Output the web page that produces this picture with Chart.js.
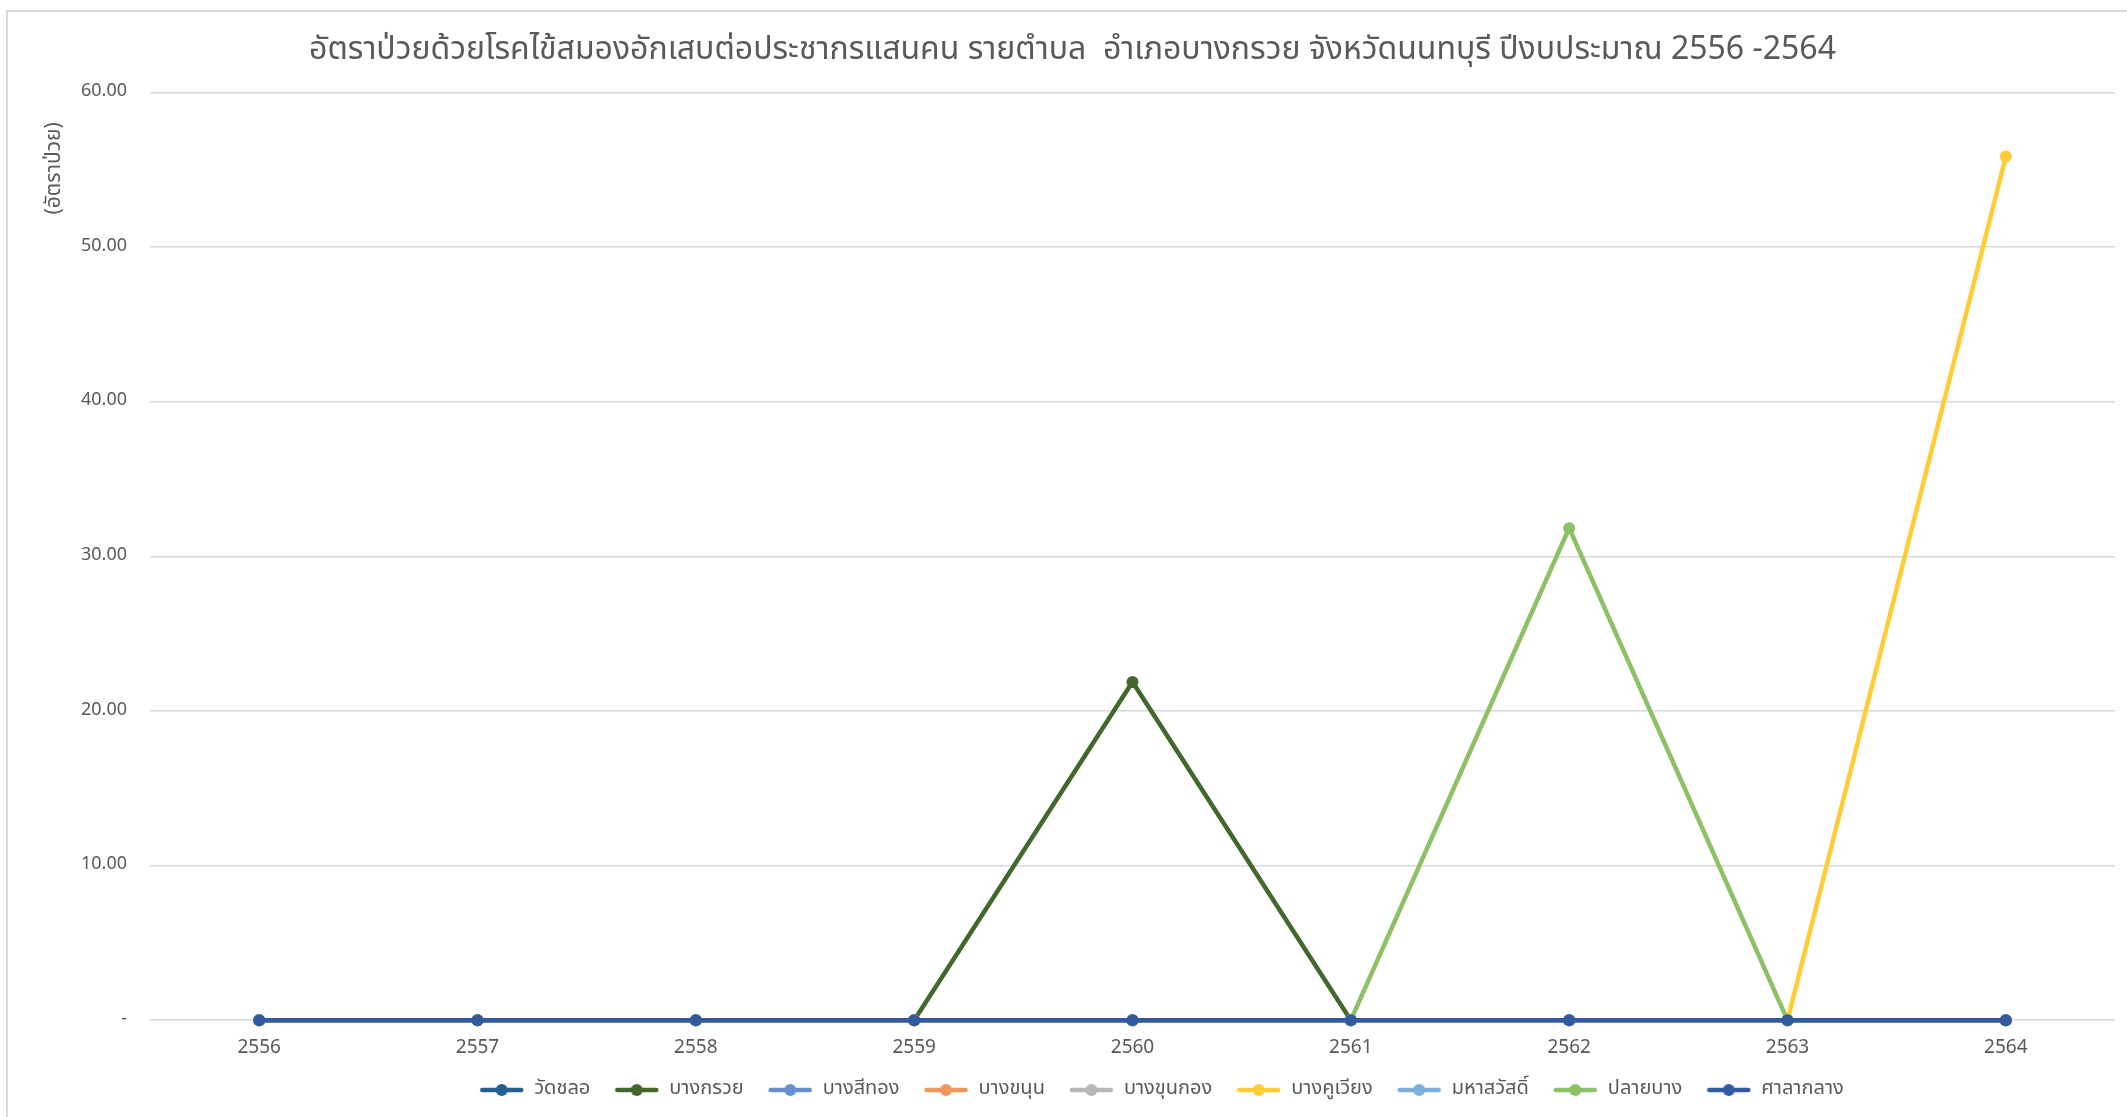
<!DOCTYPE html>
<html>
<head>
<meta charset="utf-8">
<script src="https://cdn.jsdelivr.net/npm/chart.js@4.4.1/dist/chart.umd.min.js"></script>
<style>
  html, body { margin: 0; padding: 0; background: #fff; }
  #frame { position: absolute; left: 6px; top: 10px; width: 2200px; height: 1200px;
           border-left: 2px solid #d9d9d9; border-top: 2px solid #d9d9d9; }
  #wrap { position: absolute; left: 0; top: 0; width: 2127px; height: 1117px; }
</style>
</head>
<body>
<div id="frame"></div>
<div id="wrap"><canvas id="myChart" width="2127" height="1117"></canvas></div>
<script>
const years = ['2556', '2557', '2558', '2559', '2560', '2561', '2562', '2563', '2564'];

const watChalo     = [0, 0, 0, 0, 0, 0, 0, 0, 0];
const bangKruai    = [0, 0, 0, 0, 21.87, 0, 0, 0, 0];
const bangSiThong  = [0, 0, 0, 0, 0, 0, 0, 0, 0];
const bangKhanun   = [0, 0, 0, 0, 0, 0, 0, 0, 0];
const bangKhunKong = [0, 0, 0, 0, 0, 0, 0, 0, 0];
const bangKhuWiang = [0, 0, 0, 0, 0, 0, 0, 0, 55.85];
const mahaSawat    = [0, 0, 0, 0, 0, 0, 0, 0, 0];
const plaiBang     = [0, 0, 0, 0, 0, 0, 31.82, 0, 0];
const salaKlang    = [0, 0, 0, 0, 0, 0, 0, 0, 0];

const seriesNames = ['วัดชลอ', 'บางกรวย', 'บางสีทอง', 'บางขนุน', 'บางขุนกอง', 'บางคูเวียง', 'มหาสวัสดิ์', 'ปลายบาง', 'ศาลากลาง'];
const seriesData = [watChalo, bangKruai, bangSiThong, bangKhanun, bangKhunKong, bangKhuWiang, mahaSawat, plaiBang, salaKlang];
const seriesColors = ['#255E91', '#43682B', '#698ED0', '#F1975A', '#B7B7B7', '#FFCD33', '#7CAFDD', '#8CC168', '#335AA1'];

const FONT = '"Leelawadee UI", Tahoma, "Noto Sans Thai", "Noto Sans", "DejaVu Sans", sans-serif';
const GREY = '#595959';

// legend symbol: short line with a dot, like Excel
function legendIcon(color) {
  const c = document.createElement('canvas');
  c.width = 45;
  c.height = 14;
  const g = c.getContext('2d');
  g.strokeStyle = color;
  g.lineWidth = 4.5;
  g.lineCap = 'round';
  g.beginPath();
  g.moveTo(3, 7);
  g.lineTo(42, 7);
  g.stroke();
  g.fillStyle = color;
  g.beginPath();
  g.arc(22.5, 7, 6, 0, Math.PI * 2);
  g.fill();
  return c;
}

// y axis title sits near the top, not centred
const yTitlePlugin = {
  id: 'yTitle',
  afterDraw(chart) {
    const ctx = chart.ctx;
    const area = chart.chartArea;
    ctx.save();
    ctx.translate(56, area.top + 76);
    ctx.rotate(-Math.PI / 2);
    ctx.font = '21px ' + FONT;
    ctx.fillStyle = GREY;
    ctx.textAlign = 'center';
    ctx.textBaseline = 'middle';
    ctx.fillText('(อัตราป่วย)', 0, 0);
    ctx.restore();
  }
};

// Excel places title and legend a little off the canvas centre
const boxShift = {
  id: 'boxShift',
  beforeLayout(chart) {
    const lg = chart.legend;
    if (lg && !lg._fixedFit) {
      const fit = lg.fit.bind(lg);
      lg.fit = function () { fit(); this.height = 46; };
      lg._fixedFit = true;
    }
  },
  afterLayout(chart) {
    const lg = chart.legend;
    lg.left += 75;
    lg.right += 75;
    lg.top -= 15;
    lg.bottom -= 15;
    const tb = chart.titleBlock;
    tb.left -= 14;
    tb.right -= 14;
  }
};

const datasets = seriesNames.map((name, i) => ({
  label: name,
  data: seriesData[i],
  borderColor: seriesColors[i],
  backgroundColor: seriesColors[i],
  borderWidth: 4.5,
  pointRadius: 6,
  pointHoverRadius: 6,
  pointBorderWidth: 0,
  pointStyle: 'circle',
  tension: 0,
  clip: false,
  order: seriesNames.length - i
}));

const ctx = document.getElementById('myChart').getContext('2d');
const chart = new Chart(ctx, {
  type: 'line',
  data: { labels: years, datasets: datasets },
  plugins: [yTitlePlugin, boxShift],
  options: {
    responsive: false,
    animation: false,
    devicePixelRatio: 1,
    layout: { padding: { left: 58, right: 12, top: 0, bottom: 0 } },
    plugins: {
      title: {
        display: true,
        text: 'อัตราป่วยด้วยโรคไข้สมองอักเสบต่อประชากรแสนคน รายตำบล  อำเภอบางกรวย จังหวัดนนทบุรี ปีงบประมาณ 2556 -2564',
        color: GREY,
        font: { family: FONT, size: 32, weight: 'normal' },
        padding: { top: 33, bottom: 21 }
      },
      legend: {
        position: 'bottom',
        labels: {
          color: GREY,
          font: { family: FONT, size: 20 },
          usePointStyle: true,
          pointStyleWidth: 45,
          padding: 24,
          sort: (a, b) => a.datasetIndex - b.datasetIndex,
          generateLabels: (ch) => ch.data.datasets.map((ds, i) => ({
            text: ds.label,
            datasetIndex: i,
            pointStyle: legendIcon(ds.borderColor),
            fillStyle: ds.borderColor,
            strokeStyle: ds.borderColor,
            lineWidth: 0,
            fontColor: GREY,
            hidden: false
          }))
        }
      },
      tooltip: { enabled: false }
    },
    scales: {
      x: {
        offset: true,
        grid: { display: false },
        border: { display: false },
        ticks: { color: GREY, font: { family: FONT, size: 19 }, padding: 10 }
      },
      y: {
        min: 0,
        max: 60,
        grid: { color: '#d9d9d9', lineWidth: 1.5, drawTicks: false },
        border: { display: false },
        ticks: {
          stepSize: 10,
          color: GREY,
          font: { family: FONT, size: 18 },
          padding: 23,
          callback: (v) => v === 0 ? '-' : v.toFixed(2)
        }
      }
    }
  }
});
</script>
</body>
</html>
